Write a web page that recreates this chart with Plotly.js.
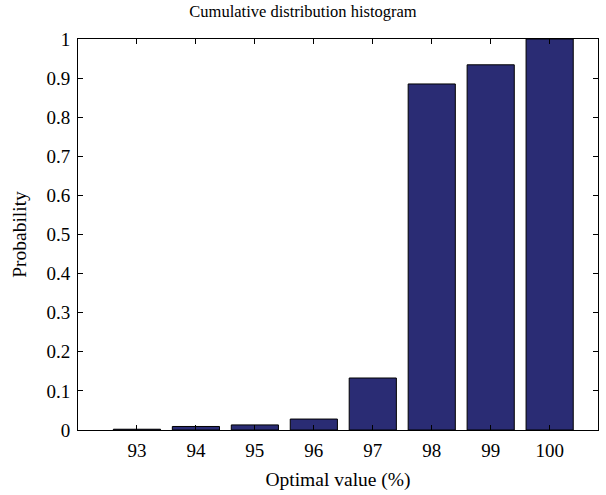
<!DOCTYPE html>
<html>
<head>
<meta charset="utf-8">
<script src="https://cdn.plot.ly/plotly-3.0.1.min.js"></script>
<style>html,body{margin:0;padding:0;background:#fff;}#chart{width:606px;height:495px;}</style>
</head>
<body>
<div id="chart"></div>
<script>
const categories = [93, 94, 95, 96, 97, 98, 99, 100];
const probabilities = [0.002, 0.009, 0.013, 0.028, 0.133, 0.885, 0.934, 1.0];
const yTicks = [0, 0.1, 0.2, 0.3, 0.4, 0.5, 0.6, 0.7, 0.8, 0.9, 1];

const fam = 'Liberation Serif';
function f(size) { return {family: fam, size: size, color: '#000'}; }

Plotly.newPlot('chart', [{
  type: 'bar',
  x: categories,
  y: probabilities,
  width: 0.8,
  marker: {color: '#2a2c74', line: {color: '#000', width: 1}},
  hoverinfo: 'x+y'
}], {
  width: 606, height: 495,
  margin: {l: 78, r: 8, t: 39, b: 65},
  paper_bgcolor: '#fff', plot_bgcolor: '#fff',
  font: f(17),
  title: {text: 'Cumulative distribution histogram', font: f(16.5), x: 0.5, xanchor: 'center', y: 0.99, yanchor: 'top'},
  xaxis: {
    range: [92, 100.82], tickvals: categories, ticktext: categories.map(String),
    ticks: 'inside', ticklen: 5, tickcolor: '#000', showline: true, linecolor: '#000', linewidth: 1,
    mirror: 'ticks', showgrid: false, zeroline: false, automargin: false,
    ticklabelstandoff: 3,
    tickfont: f(19),
    title: {text: 'Optimal value (%)', font: f(19.5), standoff: 12}
  },
  yaxis: {
    range: [0, 1], tickvals: yTicks, ticktext: yTicks.map(String),
    ticks: 'inside', ticklen: 5, tickcolor: '#000', showline: true, linecolor: '#000', linewidth: 1,
    mirror: 'ticks', showgrid: false, zeroline: false, automargin: false,
    ticklabelstandoff: 3,
    tickfont: f(19),
    title: {text: 'Probability', font: f(19.5), standoff: 14}
  },
  showlegend: false
}, {displayModeBar: false, staticPlot: true});
</script>
</body>
</html>
